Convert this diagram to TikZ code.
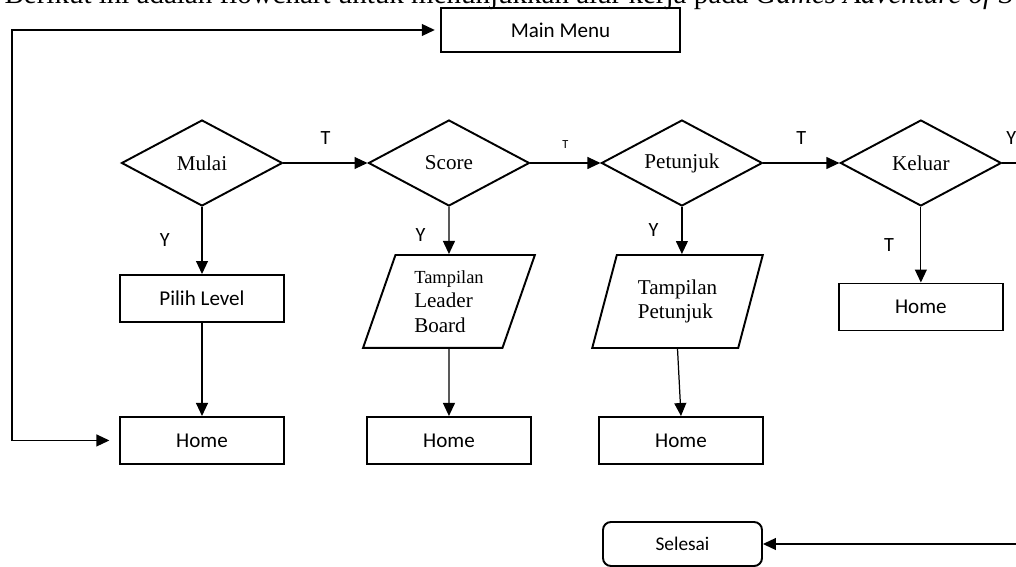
\documentclass[tikz,border=0pt]{standalone}
\usepackage{fontspec}
\setmainfont{Liberation Serif}
\newfontfamily\calibri{Carlito}
\usetikzlibrary{arrows.meta,shapes.geometric,positioning}

\begin{document}
\begin{tikzpicture}[x=0.02cm, y=-0.02cm, >={Triangle[length=7.4pt,width=6.8pt]}, line width=0.7pt]
        \tikzstyle{decision}=[diamond, aspect=2, draw, line width=1.1pt, minimum width=3.22cm, minimum height=1.72cm, inner sep=0pt, font=\fontsize{12}{14}\selectfont]
        \tikzstyle{process}=[rectangle, draw, line width=1.1pt, minimum width=3.28cm, minimum height=0.94cm, font=\calibri\fontsize{12}{14}\selectfont]
        \tikzstyle{io}=[trapezium, trapezium left angle=71.6, trapezium right angle=108.4, trapezium stretches=true, draw, line width=1.1pt, minimum width=3.46cm, minimum height=1.86cm, align=left, font=\fontsize{12}{14}\selectfont]
        \tikzstyle{terminal}=[rectangle, rounded corners=4.5pt, draw, line width=1.1pt, minimum width=3.18cm, minimum height=0.88cm, font=\calibri\fontsize{11}{13}\selectfont]
        \tikzstyle{lbl}=[inner sep=0pt, font=\calibri\fontsize{11.5}{13}\selectfont]
        \useasboundingbox (0,0) rectangle (1016,567);
        \clip (0,0) rectangle (1016,567);

        \node[anchor=base west, inner sep=0pt, font=\fontsize{16.5}{20}\selectfont] (intro) at (4,4)
            {Berikut ini adalah flowchart untuk menunjukkan alur kerja pada \textit{Games Adventure of S}};

        \node[process, minimum width=4.78cm, minimum height=0.88cm] (main) at (560.5,30) {Main Menu};

        \node[decision] (mulai)    at (202,163)                            {Mulai};
        \node[decision] (score)    [right of=mulai, node distance=4.94cm]    {Score};
        \node[decision] (petunjuk) [right of=score, node distance=4.66cm]    {Petunjuk};
        \node[decision] (keluar)   [right of=petunjuk, node distance=4.78cm] {Keluar};

        \node[process]  (pilih)    [below of=mulai, node distance=2.71cm]  {Pilih Level};
        \node[process]  (home1)    [below of=pilih, node distance=2.84cm]  {Home};

        \node[io]       (board)    [below of=score, node distance=2.77cm]  {{\fontsize{10.5}{12}\selectfont Tampilan}\\Leader\\Board};
        \node[process]  (home2)    [below of=board, node distance=2.78cm]  {Home};

        \node[io, minimum width=3.42cm] (tampil) at (677.5,301.5)         {Tampilan\\Petunjuk};
        \node[process]  (home3)    at (681,440.5)                          {Home};

        \node[process]  (home4)    [below of=keluar, node distance=2.88cm] {Home};
        \node[terminal] (selesai)  at (682.5,544)                          {Selesai};

        \coordinate (kiri) at (12,200);

        \draw[<->, shorten <=3pt, shorten >=5.5pt] (main.west) -| (kiri) |- (home1.west);
        \draw[->] (mulai) -- node[lbl, above=10pt] {T} (score);
        \draw[->] (score) -- node[lbl, above=8pt, font=\calibri\fontsize{7}{8}\selectfont] {T} (petunjuk);
        \draw[->] (petunjuk) -- node[lbl, above=10pt] {T} (keluar);
        \draw[->] (keluar.east) -- node[lbl, above=10pt, pos=0.3] {Y} ++(30,0) |- (selesai.east);

        \draw[->] (mulai) -- node[lbl, left=18pt] {Y} (pilih);
        \draw[->] (pilih) -- (home1);
        \draw[->] (score) -- node[lbl, left=13pt, pos=0.6] {Y} (board);
        \draw[->] (board) -- (home2);
        \draw[->] (petunjuk.south) -- node[lbl, left=13pt] {Y} (petunjuk.south |- tampil.north);
        \draw[->] (tampil.south) -- (home3.north);
        \draw[->] (keluar) -- node[lbl, left=15pt] {T} (home4);
\end{tikzpicture}
\end{document}
